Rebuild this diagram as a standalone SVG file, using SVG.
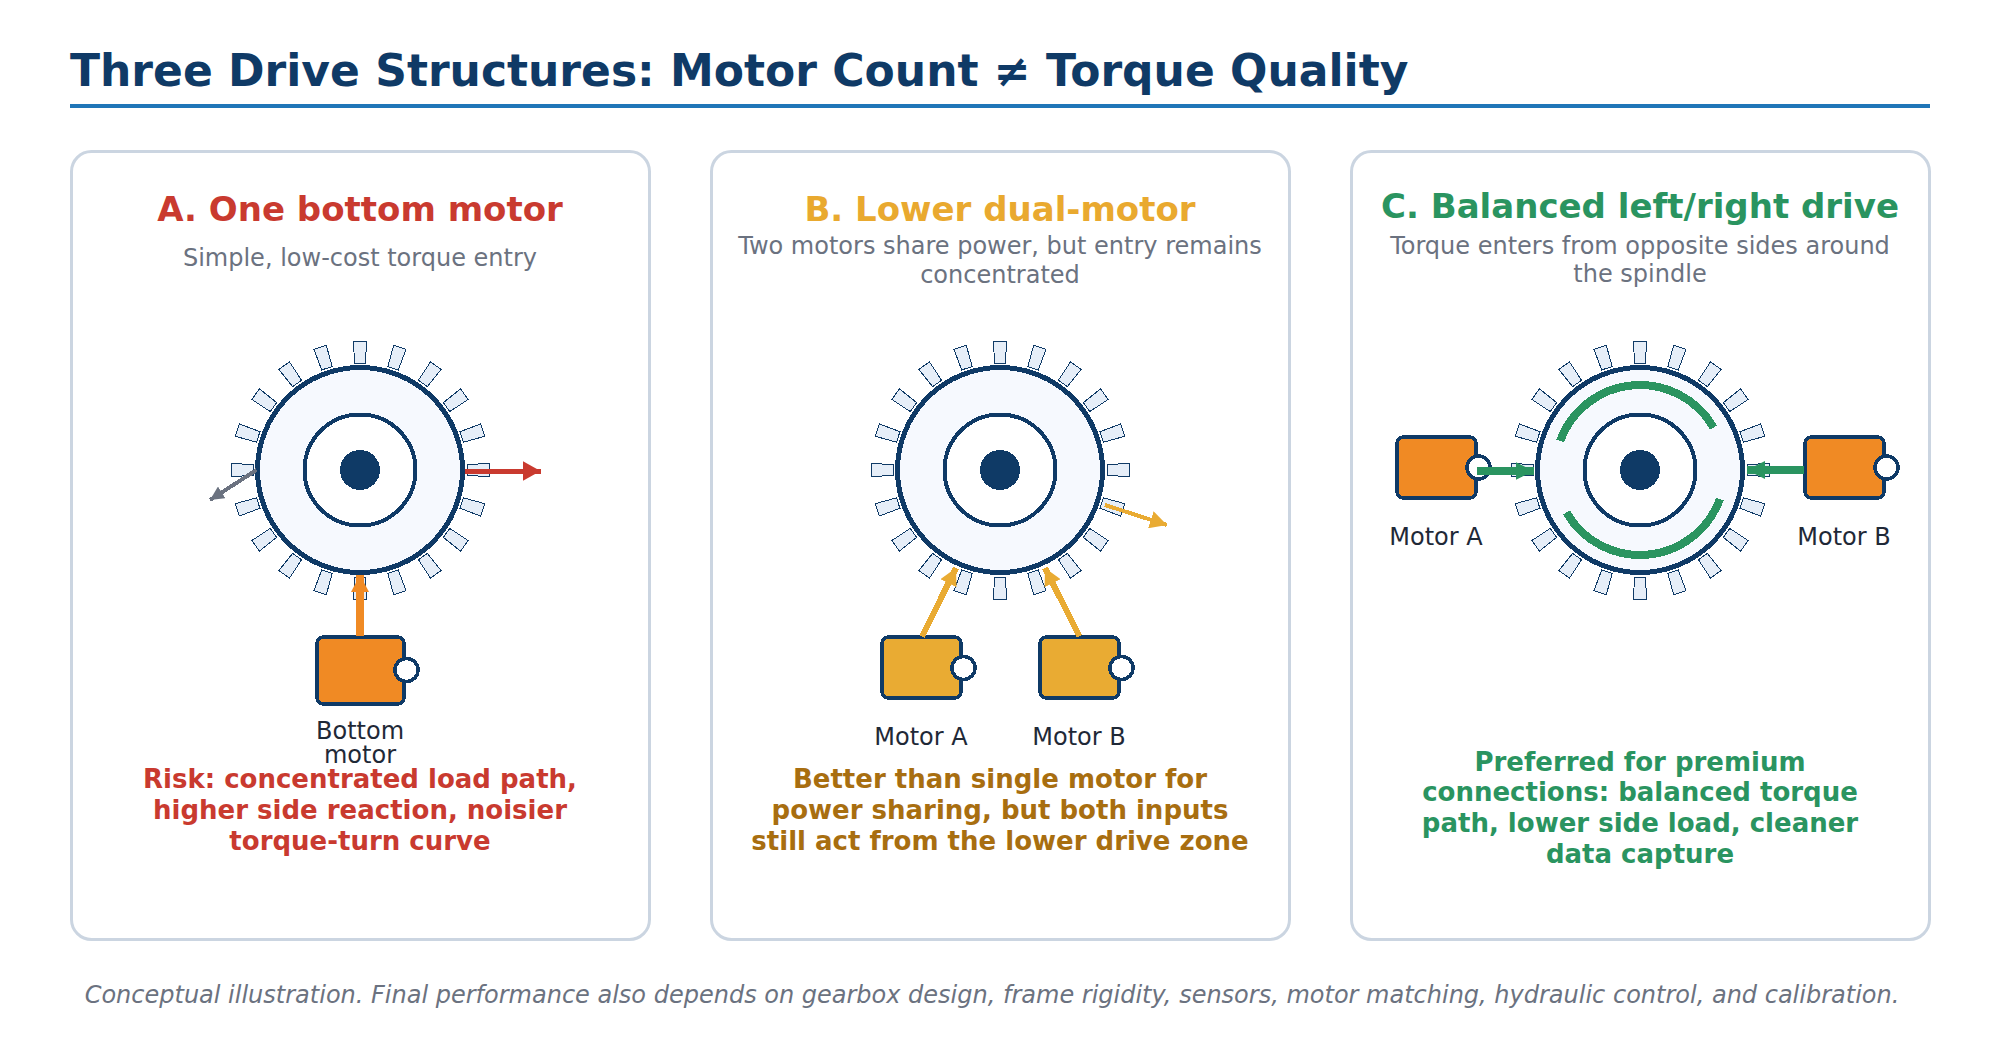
<svg xmlns="http://www.w3.org/2000/svg" width="2000" height="1050" viewBox="0 0 2000 1050">
<style>
text{font-family:"DejaVu Sans",sans-serif;text-anchor:middle}
.card{fill:#fff;stroke:#cbd5e1;stroke-width:3}
.rim{fill:#f6f9fe;stroke:#0f3a66;stroke-width:5;shape-rendering:crispEdges}
.inner{fill:#fff;stroke:#0f3a66;stroke-width:4;shape-rendering:crispEdges}
.hub{fill:#0f3a66;shape-rendering:crispEdges}
.tooth{fill:#e6eef8;stroke:#0f3a66;stroke-width:1;shape-rendering:crispEdges}
.mot{stroke:#0f3a66;stroke-width:3.5;shape-rendering:crispEdges}
.cap{fill:#fff;stroke:#0f3a66;stroke-width:3.5;shape-rendering:crispEdges}
.h{font-size:34px;font-weight:bold}
.sub{font-size:24px;fill:#6b7280}
.lab{font-size:24px;fill:#1f2937}
.note{font-size:26px;font-weight:bold}
.c{fill:none;shape-rendering:crispEdges}
</style>
<defs>
<polygon id="t" class="tooth" points="-5.5,-107 5.5,-107 6.5,-129 -6.5,-129"/>
<g id="gear">
<use href="#t" transform="rotate(0)"/><use href="#t" transform="rotate(18)"/><use href="#t" transform="rotate(36)"/><use href="#t" transform="rotate(54)"/><use href="#t" transform="rotate(72)"/><use href="#t" transform="rotate(90)"/><use href="#t" transform="rotate(108)"/><use href="#t" transform="rotate(126)"/><use href="#t" transform="rotate(144)"/><use href="#t" transform="rotate(162)"/><use href="#t" transform="rotate(180)"/><use href="#t" transform="rotate(198)"/><use href="#t" transform="rotate(216)"/><use href="#t" transform="rotate(234)"/><use href="#t" transform="rotate(252)"/><use href="#t" transform="rotate(270)"/><use href="#t" transform="rotate(288)"/><use href="#t" transform="rotate(306)"/><use href="#t" transform="rotate(324)"/><use href="#t" transform="rotate(342)"/>
<circle class="rim" r="102.5"/><circle class="inner" r="55.5"/><circle class="hub" r="20"/>
</g>
<marker id="mo" markerUnits="userSpaceOnUse" markerWidth="18" markerHeight="18" refX="17" refY="9" orient="auto"><path d="M0 0L17 9L0 18z" fill="#f08a24"/></marker>
<marker id="mr" markerUnits="userSpaceOnUse" markerWidth="20" markerHeight="20" refX="18" refY="10" orient="auto"><path d="M0 0L18 10L0 20z" fill="#c93a2f"/></marker>
<marker id="mg" markerUnits="userSpaceOnUse" markerWidth="14" markerHeight="14" refX="14" refY="7" orient="auto"><path d="M0 0L14 7L0 14z" fill="#6b7280"/></marker>
<marker id="ma" markerUnits="userSpaceOnUse" markerWidth="18" markerHeight="18" refX="17" refY="9" orient="auto"><path d="M0 0L17 9L0 18z" fill="#e9ab33"/></marker>
<marker id="mv" markerUnits="userSpaceOnUse" markerWidth="18" markerHeight="18" refX="18" refY="9" orient="auto"><path d="M0 0L18 9L0 18z" fill="#2a9460"/></marker>
</defs>
<rect width="2000" height="1050" fill="#fff"/>
<text id="title" x="70" y="86" style="text-anchor:start;font-size:44px;font-weight:bold" fill="#0f3a66">Three Drive Structures: Motor Count ≠ Torque Quality</text>
<rect x="70" y="104" width="1860" height="4" fill="#1f76b8"/>

<g id="panel-a">
<rect class="card" x="71.5" y="151.5" width="578" height="788" rx="20"/>
<text class="h" x="360" y="221" fill="#c93a2f">A. One bottom motor</text>
<text class="sub" x="360" y="266">Simple, low-cost torque entry</text>
<use href="#gear" x="360" y="470"/>
<text class="note" x="360" y="788" fill="#c93a2f">Risk: concentrated load path,</text>
<text class="note" x="360" y="819" fill="#c93a2f">higher side reaction, noisier</text>
<text class="note" x="360" y="850" fill="#c93a2f">torque-turn curve</text>
</g>
<g id="motor-bottom">
<rect class="mot" x="317" y="637" width="87" height="67" rx="6" fill="#f08a24"/>
<circle class="cap" cx="406.5" cy="670" r="11.5"/>
<text class="lab" x="360" y="739">Bottom</text><text class="lab" x="360" y="763">motor</text>
</g>

<g id="panel-b">
<rect class="card" x="711.5" y="151.5" width="578" height="788" rx="20"/>
<text class="h" x="1000" y="221" fill="#e9a92f">B. Lower dual-motor</text>
<text class="sub" x="1000" y="254">Two motors share power, but entry remains</text>
<text class="sub" x="1000" y="283">concentrated</text>
<use href="#gear" x="1000" y="470"/>
<text class="note" x="1000" y="788" fill="#a86e10">Better than single motor for</text>
<text class="note" x="1000" y="819" fill="#a86e10">power sharing, but both inputs</text>
<text class="note" x="1000" y="850" fill="#a86e10">still act from the lower drive zone</text>
</g>
<g id="motor-b-a">
<rect class="mot" x="882" y="637" width="79" height="61" rx="6" fill="#e9ab33"/>
<circle class="cap" cx="963.5" cy="668" r="11.5"/>
<text class="lab" x="921" y="745">Motor A</text>
</g>
<g id="motor-b-b">
<rect class="mot" x="1040" y="637" width="79" height="61" rx="6" fill="#e9ab33"/>
<circle class="cap" cx="1121.5" cy="668" r="11.5"/>
<text class="lab" x="1079" y="745">Motor B</text>
</g>

<g id="panel-c">
<rect class="card" x="1351.5" y="151.5" width="578" height="788" rx="20"/>
<text class="h" x="1640" y="218" fill="#2a9460">C. Balanced left/right drive</text>
<text class="sub" x="1640" y="253.5">Torque enters from opposite sides around</text>
<text class="sub" x="1640" y="282">the spindle</text>
<use href="#gear" x="1640" y="470"/>
<path class="c" stroke="#2a9460" stroke-width="8" d="M1560.13 440.93A85 85 0 0 1 1713.61 427.5M1719.87 499.07A85 85 0 0 1 1566.39 512.5"/>
<text class="note" x="1640" y="771" fill="#2a9460">Preferred for premium</text>
<text class="note" x="1640" y="801" fill="#2a9460">connections: balanced torque</text>
<text class="note" x="1640" y="832" fill="#2a9460">path, lower side load, cleaner</text>
<text class="note" x="1640" y="863" fill="#2a9460">data capture</text>
</g>
<g id="motor-c-a">
<rect class="mot" x="1397" y="437" width="79" height="61" rx="6" fill="#f08a24"/>
<circle class="cap" cx="1478.5" cy="467.5" r="11.5"/>
<text class="lab" x="1436" y="545">Motor A</text>
</g>
<g id="motor-c-b">
<rect class="mot" x="1805" y="437" width="79" height="61" rx="6" fill="#f08a24"/>
<circle class="cap" cx="1886.5" cy="467.5" r="11.5"/>
<text class="lab" x="1844" y="545">Motor B</text>
</g>

<g id="connectors" class="c">
<path stroke="#f08a24" stroke-width="8" d="M360 636V575" marker-end="url(#mo)"/>
<path stroke="#c93a2f" stroke-width="5" d="M465 471H540.5" marker-end="url(#mr)"/>
<path stroke="#6b7280" stroke-width="4" d="M256.5 470L210 500" marker-end="url(#mg)"/>
<path stroke="#e9ab33" stroke-width="6" d="M922 636.5L956 568" marker-end="url(#ma)"/>
<path stroke="#e9ab33" stroke-width="6" d="M1079.5 636.5L1045 568" marker-end="url(#ma)"/>
<path stroke="#e9ab33" stroke-width="4" d="M1105 505L1167 525" marker-end="url(#ma)"/>
<path stroke="#2a9460" stroke-width="8" d="M1477 471H1533.5" marker-end="url(#mv)"/>
<path stroke="#2a9460" stroke-width="8" d="M1804 470H1747" marker-end="url(#mv)"/>
</g>
<text id="footnote" x="992" y="1003" style="font-size:24px;font-style:italic" fill="#6b7280">Conceptual illustration. Final performance also depends on gearbox design, frame rigidity, sensors, motor matching, hydraulic control, and calibration.</text>
</svg>
